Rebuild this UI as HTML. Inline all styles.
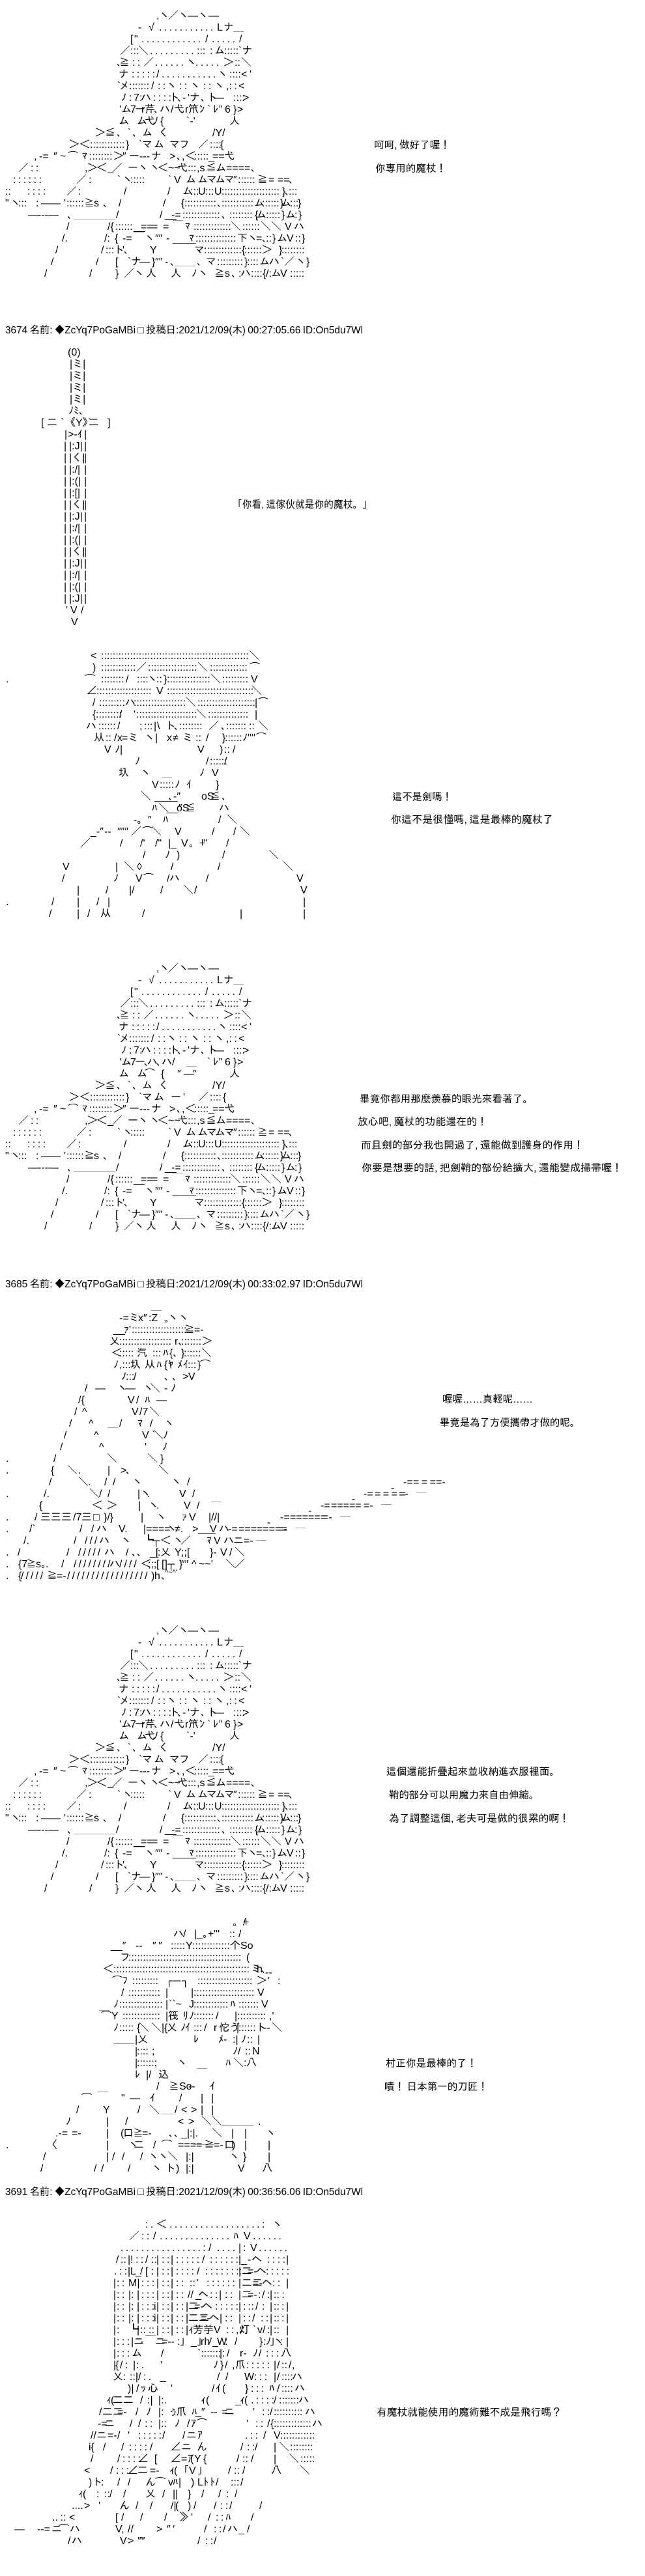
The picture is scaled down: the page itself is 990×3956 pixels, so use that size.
<!DOCTYPE html>
<html><head><meta charset="utf-8"><style>
html,body{margin:0;padding:0;background:#fff}
svg{display:block}
text{font-family:"Liberation Sans","IPAGothic","WenQuanYi Zen Hei","Noto Sans CJK TC",sans-serif;font-size:16px;word-spacing:-1px;fill:#000;white-space:pre}
.w{letter-spacing:3px}
</style></head><body>
<svg xmlns="http://www.w3.org/2000/svg" width="990" height="3956" viewBox="0 0 990 3956">
<rect width="990" height="3956" fill="#fff"/>

<g>
<text y="29"><tspan x="240">,ヽ</tspan><tspan x="258">／ヽ</tspan><tspan x="288">―ヽ―</tspan></text>
<text y="47"><tspan x="212">-</tspan><tspan x="228">√</tspan><tspan x="244">. . . . . . . . . . .</tspan><tspan x="333">L</tspan><tspan x="343">ナ</tspan><tspan x="358">＿</tspan></text>
<text y="65"><tspan x="200">[</tspan><tspan x="206">"</tspan><tspan x="217">. . . . . . . . . . . .</tspan><tspan x="315">/</tspan><tspan x="325">. . . . .</tspan><tspan x="367">/</tspan></text>
<text y="83"><tspan x="184">／</tspan><tspan x="200">:::</tspan><tspan x="212">＼</tspan><tspan x="230">. . . . . . . . .</tspan><tspan x="302">:::</tspan><tspan x="322">:</tspan><tspan x="329">ム</tspan><tspan x="344">:::::</tspan><tspan x="366">`ナ</tspan></text>
<text y="101"><tspan x="179">､</tspan><tspan x="183">≧</tspan><tspan x="203">: :</tspan><tspan x="220">／</tspan><tspan x="238">. . . . . .</tspan><tspan x="286">ヽ</tspan><tspan x="300">. . . . .</tspan><tspan x="343">＞</tspan><tspan x="360">::</tspan><tspan x="370">＼</tspan></text>
<text y="119"><tspan x="182">ナ</tspan><tspan x="202">: : : : :</tspan><tspan x="240">/</tspan><tspan x="248">. . . . . . . . . . .</tspan><tspan x="334">ヽ</tspan><tspan x="352">::::</tspan><tspan x="370">&lt;</tspan><tspan x="383">'</tspan></text>
<text y="137"><tspan x="180">`</tspan><tspan x="183">メ</tspan><tspan x="198">:::::::</tspan><tspan x="232">/</tspan><tspan x="242">: :</tspan><tspan x="256">ヽ</tspan><tspan x="275">: :</tspan><tspan x="292">ヽ</tspan><tspan x="312">: :</tspan><tspan x="329">ヽ</tspan><tspan x="347">,: :</tspan><tspan x="366">&lt;</tspan></text>
<text y="155"><tspan x="186">ﾉ</tspan><tspan x="198">:</tspan><tspan x="205">7</tspan><tspan x="214">:</tspan><tspan x="216">ハ</tspan><tspan x="235">: : : :</tspan><tspan x="260">ト</tspan><tspan x="272">､</tspan><tspan x="280">-</tspan><tspan x="288">'ナ</tspan><tspan x="308">､</tspan><tspan x="318">ト</tspan><tspan x="328">―</tspan><tspan x="358">::::</tspan><tspan x="373">&gt;</tspan></text>
<text y="173"><tspan x="183">'ム</tspan><tspan x="200">7</tspan><tspan x="207">ー</tspan><tspan x="217">r</tspan><tspan x="222">芹</tspan><tspan x="236">､</tspan><tspan x="245">ハ</tspan><tspan x="262">/</tspan><tspan x="267">弋</tspan><tspan x="284">r</tspan><tspan x="289">笊</tspan><tspan x="306">ﾝ</tspan><tspan x="318">`</tspan><tspan x="327">ﾚ</tspan><tspan x="336">"</tspan><tspan x="345">6</tspan><tspan x="358">}</tspan><tspan x="364">&gt;</tspan></text>
<text y="191"><tspan x="182">ム</tspan><tspan x="210">ム</tspan><tspan x="222">弋</tspan><tspan x="235">ﾉ</tspan><tspan x="246">{</tspan><tspan x="286">`-'</tspan><tspan x="352">人</tspan></text>
<text y="209"><tspan x="146">＞</tspan><tspan x="161">≦</tspan><tspan x="179">､</tspan><tspan x="196">`</tspan><tspan x="203">､</tspan><tspan x="218">ム</tspan><tspan x="243">く</tspan><tspan x="326">/Y/</tspan></text>
<text y="227"><tspan x="106">＞</tspan><tspan x="122">＜</tspan><tspan x="138">::::::::::::</tspan><tspan x="193">}</tspan><tspan x="213">`</tspan><tspan x="218">マ</tspan><tspan x="236">ム</tspan><tspan x="260">マ</tspan><tspan x="275">フ</tspan><tspan x="304">／</tspan><tspan x="322">::::</tspan><tspan x="338">{</tspan></text>
<text y="245"><tspan x="52">,</tspan><tspan x="60">-=</tspan><tspan x="82">″</tspan><tspan x="92">~</tspan><tspan x="104">⌒</tspan><tspan x="126">ﾏ</tspan><tspan x="137">::::::::</tspan><tspan x="174">＞</tspan><tspan x="188">″</tspan><tspan x="198">ー</tspan><tspan x="214">---</tspan><tspan x="232">ナ</tspan><tspan x="260">&gt;</tspan><tspan x="271">､,</tspan><tspan x="284">＜</tspan><tspan x="298">:::::</tspan><tspan x="320">_</tspan><tspan x="326">==</tspan><tspan x="344">弋</tspan></text>
<text y="263"><tspan x="28">／</tspan><tspan x="47">: :</tspan><tspan x="130">,</tspan><tspan x="134">＞</tspan><tspan x="148">＜</tspan><tspan x="165">_</tspan><tspan x="172">／</tspan><tspan x="196">ー</tspan><tspan x="212">ヽ</tspan><tspan x="230">ヽ</tspan><tspan x="242">＜</tspan><tspan x="258">~~</tspan><tspan x="272">弋</tspan><tspan x="288">:::</tspan><tspan x="302">,s</tspan><tspan x="316">≦</tspan><tspan x="331">ム</tspan><tspan x="347">====</tspan><tspan x="385">､</tspan></text>
<text y="281"><tspan x="20">: : : : : :</tspan><tspan x="117">／</tspan><tspan x="136">:</tspan><tspan x="180">`</tspan><tspan x="188">ヽ</tspan><tspan x="200">:::::</tspan><tspan x="258">`</tspan><tspan x="267">V</tspan><tspan x="285">ム</tspan><tspan x="303">ム</tspan><tspan x="317">マ</tspan><tspan x="330">ム</tspan><tspan x="344">マ</tspan><tspan x="358">″</tspan><tspan x="365">::::::</tspan><tspan x="395">≧</tspan><tspan x="412">=</tspan><tspan x="426">==</tspan><tspan x="443">､</tspan></text>
<text y="299"><tspan x="8">::</tspan><tspan x="42">: : : :</tspan><tspan x="102">／</tspan><tspan x="120">:</tspan><tspan x="190">/</tspan><tspan x="257">/</tspan><tspan x="280">ム</tspan><tspan x="292">:::</tspan><tspan x="304">U</tspan><tspan x="315">:::</tspan><tspan x="329">U</tspan><tspan x="340">::::::::::::::::::::</tspan><tspan x="433">}</tspan><tspan x="437">､</tspan><tspan x="443">:::</tspan></text>
<text y="317"><tspan x="8">"</tspan><tspan x="16">ヽ</tspan><tspan x="28">:::</tspan><tspan x="55">:</tspan><tspan x="63">―</tspan><tspan x="77">―</tspan><tspan x="98">'</tspan><tspan x="102">::::::</tspan><tspan x="129">≧</tspan><tspan x="144">s</tspan><tspan x="158">､</tspan><tspan x="182">/</tspan><tspan x="250">/</tspan><tspan x="278">{</tspan><tspan x="283">:::::::::::</tspan><tspan x="333">､</tspan><tspan x="340">:::::::::::</tspan><tspan x="390">ム</tspan><tspan x="402">::::::</tspan><tspan x="430">}</tspan><tspan x="431">ム</tspan><tspan x="445">:::</tspan><tspan x="457">}</tspan></text>
<text y="335"><tspan x="43">―</tspan><tspan x="58">---</tspan><tspan x="74">―</tspan><tspan x="103">､</tspan><tspan x="113">＿＿＿＿</tspan><tspan x="178">/</tspan><tspan x="245">/</tspan><tspan x="253">__</tspan><tspan x="263">-=</tspan><tspan x="280">:::::::::::::</tspan><tspan x="340">､</tspan><tspan x="352">::::::::</tspan><tspan x="391">{</tspan><tspan x="393">ム</tspan><tspan x="408">:::::</tspan><tspan x="432">}</tspan><tspan x="438">ム</tspan><tspan x="452">:</tspan><tspan x="458">}</tspan></text>
<text y="353"><tspan x="102">/</tspan><tspan x="165">/{</tspan><tspan x="177">::::::</tspan><tspan x="205">__</tspan><tspan x="216">==</tspan><tspan x="233">=</tspan><tspan x="250">=</tspan><tspan x="265">￣</tspan><tspan x="284">ﾏ</tspan><tspan x="297">:::::::::::::</tspan><tspan x="354">＼</tspan><tspan x="372">::::::</tspan><tspan x="400">＼</tspan><tspan x="416">＼</tspan><tspan x="437">V</tspan><tspan x="451">ハ</tspan></text>
<text y="371"><tspan x="95">/.</tspan><tspan x="160">/:</tspan><tspan x="176">{</tspan><tspan x="188">-=</tspan><tspan x="205">￣</tspan><tspan x="222">ヽ</tspan><tspan x="238">″″</tspan><tspan x="255">-</tspan><tspan x="265">____</tspan><tspan x="290">ﾏ</tspan><tspan x="300">::::::::::::::</tspan><tspan x="364">下</tspan><tspan x="380">ヽ</tspan><tspan x="393">=</tspan><tspan x="402">､</tspan><tspan x="408">::</tspan><tspan x="418">}</tspan><tspan x="425">ム</tspan><tspan x="440">V</tspan><tspan x="453">::</tspan><tspan x="463">}</tspan></text>
<text y="389"><tspan x="85">/</tspan><tspan x="155">/</tspan><tspan x="162">:::</tspan><tspan x="175">ト</tspan><tspan x="188">'</tspan><tspan x="190">､</tspan><tspan x="230">Y</tspan><tspan x="298">マ</tspan><tspan x="313">:::::::::::::</tspan><tspan x="371">{</tspan><tspan x="375">::::::</tspan><tspan x="402">＞</tspan><tspan x="428">}</tspan><tspan x="432">::::::::</tspan></text>
<text y="407"><tspan x="78">/</tspan><tspan x="147">/</tspan><tspan x="177">[</tspan><tspan x="196">`</tspan><tspan x="201">ナ</tspan><tspan x="214">―</tspan><tspan x="233">}</tspan><tspan x="238">″″</tspan><tspan x="253">-</tspan><tspan x="261">､</tspan><tspan x="268">＿＿</tspan><tspan x="302">､</tspan><tspan x="316">マ</tspan><tspan x="333">:::::::::</tspan><tspan x="375">}</tspan><tspan x="379">::::</tspan><tspan x="398">ム</tspan><tspan x="413">ハ</tspan><tspan x="431">`</tspan><tspan x="436">／</tspan><tspan x="454">ヽ</tspan><tspan x="470">}</tspan></text>
<text y="425"><tspan x="68">/</tspan><tspan x="137">/</tspan><tspan x="177">}</tspan><tspan x="190">／</tspan><tspan x="206">ヽ</tspan><tspan x="224">人</tspan><tspan x="262">人</tspan><tspan x="294">ﾉ</tspan><tspan x="304">ヽ</tspan><tspan x="329">≧</tspan><tspan x="345">s</tspan><tspan x="355">､</tspan><tspan x="366">:</tspan><tspan x="369">ハ</tspan><tspan x="385">::::</tspan><tspan x="403">{</tspan><tspan x="408">/:</tspan><tspan x="416">ム</tspan><tspan x="430">V</tspan><tspan x="445">:::::</tspan></text>
<text x="574" y="228" textLength="117" lengthAdjust="spacingAndGlyphs">呵呵, 做好了喔！</text>
<text x="576" y="264" textLength="109" lengthAdjust="spacingAndGlyphs">你專用的魔杖！</text>
</g>

<text x="8" y="512" textLength="549" lengthAdjust="spacingAndGlyphs">3674 名前: ◆ZcYq7PoGaMBi □ 投稿日:2021/12/09(木) 00:27:05.66 ID:On5du7Wl</text>
<text x="357" y="780" textLength="214" lengthAdjust="spacingAndGlyphs">「你看, 這傢伙就是你的魔杖。」</text>

<g>
<text y="546"><tspan x="104">(0)</tspan></text>
<text y="564"><tspan x="107">|ミ|</tspan></text>
<text y="582"><tspan x="107">|ミ|</tspan></text>
<text y="600"><tspan x="107">|ミ|</tspan></text>
<text y="618"><tspan x="107">|ミ|</tspan></text>
<text y="636"><tspan x="105">ﾉﾐ､</tspan></text>
<text y="654"><tspan x="63">[</tspan><tspan x="72">二</tspan><tspan x="93">`</tspan><tspan x="100">《Y》</tspan><tspan x="135">`</tspan><tspan x="136">二</tspan><tspan x="165">]</tspan></text>
<text y="672"><tspan x="99">|</tspan><tspan x="104">&gt;-ｲ</tspan><tspan x="129">|</tspan></text>
<text y="690"><tspan x="98">|</tspan><tspan x="106">|:J|</tspan><tspan x="129">|</tspan></text>
<text y="708"><tspan x="98">|</tspan><tspan x="106">|く|</tspan><tspan x="129">|</tspan></text>
<text y="726"><tspan x="98">|</tspan><tspan x="106">|:/|</tspan><tspan x="129">|</tspan></text>
<text y="744"><tspan x="98">|</tspan><tspan x="106">|:(|</tspan><tspan x="129">|</tspan></text>
<text y="762"><tspan x="98">|</tspan><tspan x="106">|:[|</tspan><tspan x="129">|</tspan></text>
<text y="780"><tspan x="98">|</tspan><tspan x="106">|く|</tspan><tspan x="129">|</tspan></text>
<text y="798"><tspan x="98">|</tspan><tspan x="106">|:J|</tspan><tspan x="129">|</tspan></text>
<text y="816"><tspan x="98">|</tspan><tspan x="106">|:/|</tspan><tspan x="129">|</tspan></text>
<text y="834"><tspan x="98">|</tspan><tspan x="106">|:(|</tspan><tspan x="129">|</tspan></text>
<text y="852"><tspan x="98">|</tspan><tspan x="106">|く|</tspan><tspan x="129">|</tspan></text>
<text y="870"><tspan x="98">|</tspan><tspan x="106">|:J|</tspan><tspan x="129">|</tspan></text>
<text y="888"><tspan x="98">|</tspan><tspan x="106">|:/|</tspan><tspan x="129">|</tspan></text>
<text y="906"><tspan x="98">|</tspan><tspan x="106">|:(|</tspan><tspan x="129">|</tspan></text>
<text y="924"><tspan x="98">|</tspan><tspan x="106">|:J|</tspan><tspan x="129">|</tspan></text>
<text y="942"><tspan x="101">'</tspan><tspan x="108">V</tspan><tspan x="124">/</tspan></text>
<text y="960"><tspan x="109">V</tspan></text>
</g>

<g>
<text y="1012"><tspan x="139">&lt;</tspan><tspan x="155">:::::::::::::::::::::::::::::::::::::::::::::::::::</tspan><tspan x="382">＼</tspan></text>
<text y="1030"><tspan x="142">)</tspan><tspan x="155">::::::::::::</tspan><tspan x="209">／</tspan><tspan x="227">:::::::::::::::::</tspan><tspan x="303">＼</tspan><tspan x="322">:::::::::::::</tspan><tspan x="383">⌒</tspan></text>
<text y="1048"><tspan x="130">⌒</tspan><tspan x="155">::::::::</tspan><tspan x="193">/</tspan><tspan x="210">::::</tspan><tspan x="226">ヽ</tspan><tspan x="240">::</tspan><tspan x="251">}</tspan><tspan x="256">:::::::::::::::</tspan><tspan x="323">＼</tspan><tspan x="341">:::::::::</tspan><tspan x="385">V</tspan></text>
<text y="1048"><tspan x="9">.</tspan></text>
<text y="1066"><tspan x="133">∠</tspan><tspan x="148">:::::::::::::::::::</tspan><tspan x="240">V</tspan><tspan x="256">::::::::::::::::::::::::::::::</tspan><tspan x="386">＼</tspan></text>
<text y="1084"><tspan x="142">/</tspan><tspan x="152">:::::::::</tspan><tspan x="192">ハ</tspan><tspan x="205">::::::::::::::::::</tspan><tspan x="285">＼</tspan><tspan x="303">::::::::::::::::::::</tspan><tspan x="391">|</tspan><tspan x="396">⌒</tspan></text>
<text y="1102"><tspan x="142">{</tspan><tspan x="147">:::::::::</tspan><tspan x="183">/</tspan><tspan x="205">'</tspan><tspan x="209">:::::::::::::::::::::</tspan><tspan x="301">＼</tspan><tspan x="319">::::::::::::::</tspan><tspan x="391">|</tspan></text>
<text y="1120"><tspan x="132">ハ</tspan><tspan x="151">::::::</tspan><tspan x="180">/</tspan><tspan x="214">;</tspan><tspan x="221">:::</tspan><tspan x="236">|</tspan><tspan x="241">\</tspan><tspan x="254">ト</tspan><tspan x="267">､</tspan><tspan x="275">::::::::</tspan><tspan x="320">／</tspan><tspan x="339">､</tspan><tspan x="347">:::::::</tspan><tspan x="382">::</tspan><tspan x="396">＼</tspan></text>
<text y="1138"><tspan x="144">从</tspan><tspan x="162">::</tspan><tspan x="175">/</tspan><tspan x="180">x</tspan><tspan x="187">=ミ</tspan><tspan x="222">ヽ|</tspan><tspan x="256">x</tspan><tspan x="265">≠</tspan><tspan x="280">ミ</tspan><tspan x="300">::</tspan><tspan x="316">/</tspan><tspan x="341">}</tspan><tspan x="345">::::::</tspan><tspan x="372">ﾉ</tspan><tspan x="380">''''</tspan><tspan x="393">⌒</tspan></text>
<text y="1156"><tspan x="160">V</tspan><tspan x="176">ﾉ|</tspan><tspan x="303">V</tspan><tspan x="337">)</tspan><tspan x="344">::</tspan><tspan x="357">/</tspan></text>
<text y="1174"><tspan x="207">ﾉ</tspan><tspan x="316">/</tspan><tspan x="322">::::::</tspan><tspan x="344">/</tspan></text>
<text y="1192"><tspan x="182">圦</tspan><tspan x="216">ヽ</tspan><tspan x="248">＿</tspan><tspan x="306">ﾉ</tspan><tspan x="325">V</tspan></text>
<text y="1210"><tspan x="233">V</tspan><tspan x="245">:::::</tspan><tspan x="268">ﾉ</tspan><tspan x="286">ｲ</tspan><tspan x="331">}</tspan></text>
<text y="1228"><tspan x="216">＼</tspan><tspan x="237">____</tspan><tspan x="258">､-″</tspan><tspan x="309">oS</tspan><tspan x="322">≦</tspan><tspan x="340">､</tspan></text>
<text y="1246"><tspan x="233">ﾊ</tspan><tspan x="243">＼</tspan><tspan x="256">__″</tspan><tspan x="271">oS</tspan><tspan x="284">≦</tspan><tspan x="336">ハ</tspan></text>
<text y="1264"><tspan x="205">-。</tspan><tspan x="227">″</tspan><tspan x="250">ﾊ</tspan><tspan x="335">/</tspan><tspan x="348">＼</tspan></text>
<text y="1282"><tspan x="139">_-″</tspan><tspan x="160">--</tspan><tspan x="180">″″″</tspan><tspan x="201">／</tspan><tspan x="218">⌒</tspan><tspan x="232">＼</tspan><tspan x="268">V</tspan><tspan x="325">/</tspan><tspan x="358">/</tspan><tspan x="368">＼</tspan></text>
<text y="1300"><tspan x="123">／</tspan><tspan x="184">/</tspan><tspan x="215">/'</tspan><tspan x="238">/"</tspan><tspan x="258">|_</tspan><tspan x="278">V</tspan><tspan x="290">。+</tspan><tspan x="309">'''</tspan><tspan x="347">/</tspan></text>
<text y="1318"><tspan x="219">/</tspan><tspan x="253">ﾉ</tspan><tspan x="271">)</tspan><tspan x="341">/</tspan><tspan x="412">＼</tspan></text>
<text y="1336"><tspan x="96">V</tspan><tspan x="177">|</tspan><tspan x="190">＼</tspan><tspan x="210">◊</tspan><tspan x="262">/</tspan><tspan x="334">/</tspan><tspan x="434">＼</tspan></text>
<text y="1354"><tspan x="95">/</tspan><tspan x="174">ﾉ</tspan><tspan x="208">V</tspan><tspan x="220">⌒</tspan><tspan x="256">/</tspan><tspan x="260">ハ</tspan><tspan x="316">/</tspan><tspan x="455">V</tspan></text>
<text y="1372"><tspan x="118">|</tspan><tspan x="162">/</tspan><tspan x="198">|/</tspan><tspan x="246">/</tspan><tspan x="281">＼</tspan><tspan x="298">/</tspan><tspan x="461">V</tspan></text>
<text y="1390"><tspan x="9">.</tspan><tspan x="79">/</tspan><tspan x="118">|</tspan><tspan x="148">/</tspan><tspan x="165">|</tspan><tspan x="465">|</tspan></text>
<text y="1408"><tspan x="75">/</tspan><tspan x="118">|</tspan><tspan x="134">/</tspan><tspan x="154">从</tspan><tspan x="218">/</tspan><tspan x="368">|</tspan><tspan x="465">|</tspan></text>
<text x="602" y="1229" textLength="92" lengthAdjust="spacingAndGlyphs">這不是劍嗎！</text>
<text x="600" y="1264" textLength="249" lengthAdjust="spacingAndGlyphs">你這不是很懂嗎, 這是最棒的魔杖了</text>
</g>

<g transform="translate(0,1463)">
<text y="29"><tspan x="240">,ヽ</tspan><tspan x="258">／ヽ</tspan><tspan x="288">―ヽ―</tspan></text>
<text y="47"><tspan x="212">-</tspan><tspan x="228">√</tspan><tspan x="244">. . . . . . . . . . .</tspan><tspan x="333">L</tspan><tspan x="343">ナ</tspan><tspan x="358">＿</tspan></text>
<text y="65"><tspan x="200">[</tspan><tspan x="206">"</tspan><tspan x="217">. . . . . . . . . . . .</tspan><tspan x="315">/</tspan><tspan x="325">. . . . .</tspan><tspan x="367">/</tspan></text>
<text y="83"><tspan x="184">／</tspan><tspan x="200">:::</tspan><tspan x="212">＼</tspan><tspan x="230">. . . . . . . . .</tspan><tspan x="302">:::</tspan><tspan x="322">:</tspan><tspan x="329">ム</tspan><tspan x="344">:::::</tspan><tspan x="366">`ナ</tspan></text>
<text y="101"><tspan x="179">､</tspan><tspan x="183">≧</tspan><tspan x="203">: :</tspan><tspan x="220">／</tspan><tspan x="238">. . . . . .</tspan><tspan x="286">ヽ</tspan><tspan x="300">. . . . .</tspan><tspan x="343">＞</tspan><tspan x="360">::</tspan><tspan x="370">＼</tspan></text>
<text y="119"><tspan x="182">ナ</tspan><tspan x="202">: : : : :</tspan><tspan x="240">/</tspan><tspan x="248">. . . . . . . . . . .</tspan><tspan x="334">ヽ</tspan><tspan x="352">::::</tspan><tspan x="370">&lt;</tspan><tspan x="383">'</tspan></text>
<text y="137"><tspan x="180">`</tspan><tspan x="183">メ</tspan><tspan x="198">:::::::</tspan><tspan x="232">/</tspan><tspan x="242">: :</tspan><tspan x="256">ヽ</tspan><tspan x="275">: :</tspan><tspan x="292">ヽ</tspan><tspan x="312">: :</tspan><tspan x="329">ヽ</tspan><tspan x="347">,: :</tspan><tspan x="366">&lt;</tspan></text>
<text y="155"><tspan x="186">ﾉ</tspan><tspan x="198">:</tspan><tspan x="205">7</tspan><tspan x="214">:</tspan><tspan x="216">ハ</tspan><tspan x="235">: : : :</tspan><tspan x="260">ト</tspan><tspan x="272">､</tspan><tspan x="280">-</tspan><tspan x="288">'ナ</tspan><tspan x="308">､</tspan><tspan x="318">ト</tspan><tspan x="328">―</tspan><tspan x="358">::::</tspan><tspan x="373">&gt;</tspan></text>
<text y="173"><tspan x="183">'ム</tspan><tspan x="200">7</tspan><tspan x="207">ー</tspan><tspan x="221">､</tspan><tspan x="226">ハ</tspan><tspan x="240">､</tspan><tspan x="248">ハ</tspan><tspan x="264">/</tspan><tspan x="286">＿</tspan><tspan x="318">`</tspan><tspan x="327">ﾚ</tspan><tspan x="336">"</tspan><tspan x="345">6</tspan><tspan x="358">}</tspan><tspan x="364">&gt;</tspan></text>
<text y="191"><tspan x="182">ム</tspan><tspan x="210">ム</tspan><tspan x="222">⌒</tspan><tspan x="247">{</tspan><tspan x="272">″</tspan><tspan x="282">―</tspan><tspan x="296">″</tspan><tspan x="352">人</tspan></text>
<text y="209"><tspan x="146">＞</tspan><tspan x="161">≦</tspan><tspan x="179">､</tspan><tspan x="196">`</tspan><tspan x="203">､</tspan><tspan x="218">ム</tspan><tspan x="243">く</tspan><tspan x="326">/Y/</tspan></text>
<text y="227"><tspan x="106">＞</tspan><tspan x="122">＜</tspan><tspan x="138">::::::::::::</tspan><tspan x="193">}</tspan><tspan x="213">`</tspan><tspan x="218">マ</tspan><tspan x="236">ム</tspan><tspan x="262">ー</tspan><tspan x="281">'</tspan><tspan x="304">／</tspan><tspan x="322">::::</tspan><tspan x="342">{</tspan></text>
<text y="245"><tspan x="52">,</tspan><tspan x="60">-=</tspan><tspan x="82">″</tspan><tspan x="92">~</tspan><tspan x="104">⌒</tspan><tspan x="126">ﾏ</tspan><tspan x="137">::::::::</tspan><tspan x="174">＞</tspan><tspan x="188">″</tspan><tspan x="198">ー</tspan><tspan x="214">---</tspan><tspan x="232">ナ</tspan><tspan x="260">&gt;</tspan><tspan x="271">､,</tspan><tspan x="284">＜</tspan><tspan x="298">:::::</tspan><tspan x="320">_</tspan><tspan x="326">==</tspan><tspan x="344">弋</tspan></text>
<text y="263"><tspan x="28">／</tspan><tspan x="47">: :</tspan><tspan x="130">,</tspan><tspan x="134">＞</tspan><tspan x="148">＜</tspan><tspan x="165">_</tspan><tspan x="172">／</tspan><tspan x="196">ー</tspan><tspan x="212">ヽ</tspan><tspan x="230">ヽ</tspan><tspan x="242">＜</tspan><tspan x="258">~~</tspan><tspan x="272">弋</tspan><tspan x="288">:::</tspan><tspan x="302">,s</tspan><tspan x="316">≦</tspan><tspan x="331">ム</tspan><tspan x="347">====</tspan><tspan x="385">､</tspan></text>
<text y="281"><tspan x="20">: : : : : :</tspan><tspan x="117">／</tspan><tspan x="136">:</tspan><tspan x="180">`</tspan><tspan x="188">ヽ</tspan><tspan x="200">:::::</tspan><tspan x="258">`</tspan><tspan x="267">V</tspan><tspan x="285">ム</tspan><tspan x="303">ム</tspan><tspan x="317">マ</tspan><tspan x="330">ム</tspan><tspan x="344">マ</tspan><tspan x="358">″</tspan><tspan x="365">::::::</tspan><tspan x="395">≧</tspan><tspan x="412">=</tspan><tspan x="426">==</tspan><tspan x="443">､</tspan></text>
<text y="299"><tspan x="8">::</tspan><tspan x="42">: : : :</tspan><tspan x="102">／</tspan><tspan x="120">:</tspan><tspan x="190">/</tspan><tspan x="257">/</tspan><tspan x="280">ム</tspan><tspan x="292">:::</tspan><tspan x="304">U</tspan><tspan x="315">:::</tspan><tspan x="329">U</tspan><tspan x="340">::::::::::::::::::::</tspan><tspan x="433">}</tspan><tspan x="437">､</tspan><tspan x="443">:::</tspan></text>
<text y="317"><tspan x="8">"</tspan><tspan x="16">ヽ</tspan><tspan x="28">:::</tspan><tspan x="55">:</tspan><tspan x="63">―</tspan><tspan x="77">―</tspan><tspan x="98">'</tspan><tspan x="102">::::::</tspan><tspan x="129">≧</tspan><tspan x="144">s</tspan><tspan x="158">､</tspan><tspan x="182">/</tspan><tspan x="250">/</tspan><tspan x="278">{</tspan><tspan x="283">:::::::::::</tspan><tspan x="333">､</tspan><tspan x="340">:::::::::::</tspan><tspan x="390">ム</tspan><tspan x="402">::::::</tspan><tspan x="430">}</tspan><tspan x="431">ム</tspan><tspan x="445">:::</tspan><tspan x="457">}</tspan></text>
<text y="335"><tspan x="43">―</tspan><tspan x="58">---</tspan><tspan x="74">―</tspan><tspan x="103">､</tspan><tspan x="113">＿＿＿＿</tspan><tspan x="178">/</tspan><tspan x="245">/</tspan><tspan x="253">__</tspan><tspan x="263">-=</tspan><tspan x="280">:::::::::::::</tspan><tspan x="340">､</tspan><tspan x="352">::::::::</tspan><tspan x="391">{</tspan><tspan x="393">ム</tspan><tspan x="408">:::::</tspan><tspan x="432">}</tspan><tspan x="438">ム</tspan><tspan x="452">:</tspan><tspan x="458">}</tspan></text>
<text y="353"><tspan x="102">/</tspan><tspan x="165">/{</tspan><tspan x="177">::::::</tspan><tspan x="205">__</tspan><tspan x="216">==</tspan><tspan x="233">=</tspan><tspan x="250">=</tspan><tspan x="265">￣</tspan><tspan x="284">ﾏ</tspan><tspan x="297">:::::::::::::</tspan><tspan x="354">＼</tspan><tspan x="372">::::::</tspan><tspan x="400">＼</tspan><tspan x="416">＼</tspan><tspan x="437">V</tspan><tspan x="451">ハ</tspan></text>
<text y="371"><tspan x="95">/.</tspan><tspan x="160">/:</tspan><tspan x="176">{</tspan><tspan x="188">-=</tspan><tspan x="205">￣</tspan><tspan x="222">ヽ</tspan><tspan x="238">″″</tspan><tspan x="255">-</tspan><tspan x="265">____</tspan><tspan x="290">ﾏ</tspan><tspan x="300">::::::::::::::</tspan><tspan x="364">下</tspan><tspan x="380">ヽ</tspan><tspan x="393">=</tspan><tspan x="402">､</tspan><tspan x="408">::</tspan><tspan x="418">}</tspan><tspan x="425">ム</tspan><tspan x="440">V</tspan><tspan x="453">::</tspan><tspan x="463">}</tspan></text>
<text y="389"><tspan x="85">/</tspan><tspan x="155">/</tspan><tspan x="162">:::</tspan><tspan x="175">ト</tspan><tspan x="188">'</tspan><tspan x="190">､</tspan><tspan x="230">Y</tspan><tspan x="298">マ</tspan><tspan x="313">:::::::::::::</tspan><tspan x="371">{</tspan><tspan x="375">::::::</tspan><tspan x="402">＞</tspan><tspan x="428">}</tspan><tspan x="432">::::::::</tspan></text>
<text y="407"><tspan x="78">/</tspan><tspan x="147">/</tspan><tspan x="177">[</tspan><tspan x="196">`</tspan><tspan x="201">ナ</tspan><tspan x="214">―</tspan><tspan x="233">}</tspan><tspan x="238">″″</tspan><tspan x="253">-</tspan><tspan x="261">､</tspan><tspan x="268">＿＿</tspan><tspan x="302">､</tspan><tspan x="316">マ</tspan><tspan x="333">:::::::::</tspan><tspan x="375">}</tspan><tspan x="379">::::</tspan><tspan x="398">ム</tspan><tspan x="413">ハ</tspan><tspan x="431">`</tspan><tspan x="436">／</tspan><tspan x="454">ヽ</tspan><tspan x="470">}</tspan></text>
<text y="425"><tspan x="68">/</tspan><tspan x="137">/</tspan><tspan x="177">}</tspan><tspan x="190">／</tspan><tspan x="206">ヽ</tspan><tspan x="224">人</tspan><tspan x="262">人</tspan><tspan x="294">ﾉ</tspan><tspan x="304">ヽ</tspan><tspan x="329">≧</tspan><tspan x="345">s</tspan><tspan x="355">､</tspan><tspan x="366">:</tspan><tspan x="369">ハ</tspan><tspan x="385">::::</tspan><tspan x="403">{</tspan><tspan x="408">/:</tspan><tspan x="416">ム</tspan><tspan x="430">V</tspan><tspan x="445">:::::</tspan></text>
</g>
<text x="552" y="1693" textLength="266" lengthAdjust="spacingAndGlyphs">畢竟你都用那麼羨慕的眼光來看著了。</text>
<text x="549" y="1728" textLength="199" lengthAdjust="spacingAndGlyphs">放心吧, 魔杖的功能還在的！</text>
<text x="554" y="1764" textLength="342" lengthAdjust="spacingAndGlyphs">而且劍的部分我也開過了, 還能做到護身的作用！</text>
<text x="555" y="1799" textLength="400" lengthAdjust="spacingAndGlyphs">你要是想要的話, 把劍鞘的部份給擴大, 還能變成掃帚喔！</text>

<text x="8" y="1977" textLength="549" lengthAdjust="spacingAndGlyphs">3685 名前: ◆ZcYq7PoGaMBi □ 投稿日:2021/12/09(木) 00:33:02.97 ID:On5du7Wl</text>

<g>
<text y="2011"><tspan x="232">＿</tspan></text>
<text y="2029"><tspan x="183">-=ミ</tspan><tspan x="212">x″</tspan><tspan x="228">:Z</tspan><tspan x="252">„</tspan><tspan x="258">ヽヽ</tspan></text>
<text y="2047"><tspan x="174">__</tspan><tspan x="190">ｧ'</tspan><tspan x="202">:::::::::::::::::::</tspan><tspan x="283">≧</tspan><tspan x="298">=-</tspan></text>
<text y="2065"><tspan x="168">乂</tspan><tspan x="183">::::::::::::::::::</tspan><tspan x="268">r､</tspan><tspan x="278">:::::::</tspan><tspan x="310">＞</tspan></text>
<text y="2083"><tspan x="171">＜</tspan><tspan x="183">:::::</tspan><tspan x="210">汽</tspan><tspan x="234">:::</tspan><tspan x="250">ﾊ</tspan><tspan x="260">{､</tspan><tspan x="278">}</tspan><tspan x="282">::::::</tspan><tspan x="309">＼</tspan></text>
<text y="2101"><tspan x="174">ﾉ</tspan><tspan x="183">,:::</tspan><tspan x="200">圦</tspan><tspan x="222">从</tspan><tspan x="240">ﾊ</tspan><tspan x="252">{</tspan><tspan x="258">ﾔ</tspan><tspan x="272">ﾒ</tspan><tspan x="281">ｲ</tspan><tspan x="288">:::</tspan><tspan x="303">}</tspan><tspan x="307">⌒</tspan></text>
<text y="2119"><tspan x="186">ﾉ</tspan><tspan x="193">:::</tspan><tspan x="205">/</tspan><tspan x="252">､</tspan><tspan x="264">､</tspan><tspan x="280">&gt;</tspan><tspan x="289">V</tspan></text>
<text y="2137"><tspan x="130">/</tspan><tspan x="146">―</tspan><tspan x="180">ヽ</tspan><tspan x="192">―</tspan><tspan x="220">ヽ</tspan><tspan x="230">＼</tspan><tspan x="252">-</tspan><tspan x="262">ﾉ</tspan></text>
<text y="2155"><tspan x="120">/{</tspan><tspan x="196">V</tspan><tspan x="209">/</tspan><tspan x="222">ﾊ</tspan><tspan x="240">―</tspan></text>
<text y="2173"><tspan x="114">/</tspan><tspan x="126">^</tspan><tspan x="202">V</tspan><tspan x="214">/7</tspan><tspan x="229">＼</tspan></text>
<text y="2191"><tspan x="106">/</tspan><tspan x="136">^</tspan><tspan x="165">＿</tspan><tspan x="183">/</tspan><tspan x="211">ﾏ</tspan><tspan x="230">/</tspan><tspan x="252">ヽ</tspan></text>
<text y="2209"><tspan x="98">/</tspan><tspan x="144">^</tspan><tspan x="218">V</tspan><tspan x="233">`</tspan><tspan x="235">＼</tspan><tspan x="250">ﾉ</tspan></text>
<text y="2227"><tspan x="92">/</tspan><tspan x="152">^</tspan><tspan x="222">'</tspan><tspan x="249">ﾉ</tspan></text>
<text y="2245"><tspan x="9">.</tspan><tspan x="82">/</tspan><tspan x="164">＼</tspan><tspan x="226">＼</tspan><tspan x="246">}</tspan></text>
<text y="2263"><tspan x="9">.</tspan><tspan x="78">{</tspan><tspan x="103">＼</tspan><tspan x="120">.</tspan><tspan x="165">|</tspan><tspan x="185">&gt;</tspan><tspan x="193">､</tspan><tspan x="243">＼</tspan></text>
<text y="2281"><tspan x="75">/</tspan><tspan x="120">＼</tspan><tspan x="135">.</tspan><tspan x="160">/</tspan><tspan x="173">/</tspan><tspan x="203">ヽ</tspan><tspan x="263">ヽ</tspan><tspan x="287">/</tspan><tspan x="619">-=</tspan><tspan x="634">= = =</tspan><tspan x="669">=-</tspan></text>
<text y="2299"><tspan x="9">.</tspan><tspan x="67">/.</tspan><tspan x="137">＼</tspan><tspan x="152">/</tspan><tspan x="165">/</tspan><tspan x="211">|</tspan><tspan x="216">ヽ</tspan><tspan x="226">.</tspan><tspan x="275">V</tspan><tspan x="295">/</tspan><tspan x="558">-=</tspan><tspan x="575">= = = =</tspan><tspan x="612">=-</tspan></text>
<text y="2317"><tspan x="60">{</tspan><tspan x="141">＜</tspan><tspan x="164">＞</tspan><tspan x="212">|</tspan><tspan x="228">ヽ</tspan><tspan x="240">.</tspan><tspan x="282">V</tspan><tspan x="302">/</tspan><tspan x="492">-=</tspan><tspan x="508">=====</tspan><tspan x="558">=-</tspan></text>
<text y="2335"><tspan x="9">.</tspan><tspan x="53">/</tspan><tspan x="62">三三三</tspan><tspan x="112">/7</tspan><tspan x="125">三</tspan><tspan x="143">□</tspan><tspan x="159">}/}</tspan><tspan x="216">|</tspan><tspan x="240">ヽ</tspan><tspan x="279">ｧ</tspan><tspan x="290">V</tspan><tspan x="320">|//|</tspan><tspan x="430">-=</tspan><tspan x="445">======</tspan><tspan x="495">=-</tspan></text>
<text y="2305"><tspan x="324">＿</tspan></text>
<text y="2353"><tspan x="9">.</tspan><tspan x="45">/`</tspan><tspan x="122">/</tspan><tspan x="140">/</tspan><tspan x="148">ハ</tspan><tspan x="182">V.</tspan><tspan x="220">|====</tspan><tspan x="256">ヽ</tspan><tspan x="268">≠.</tspan><tspan x="295">&gt;</tspan><tspan x="304">___</tspan><tspan x="322">V</tspan><tspan x="336">ハ</tspan><tspan x="350">-=</tspan><tspan x="366">========</tspan><tspan x="426">=-</tspan></text>
<text y="2371"><tspan x="36">/.</tspan><tspan x="113">/</tspan><tspan x="130" class="w">///</tspan><tspan x="152">ハ</tspan><tspan x="186">ヽ</tspan><tspan x="220">┗</tspan><tspan x="234">┬</tspan><tspan x="246">＜</tspan><tspan x="266">ヽ</tspan><tspan x="277">／</tspan><tspan x="317">ﾏ</tspan><tspan x="328">V</tspan><tspan x="343">ハ</tspan><tspan x="358">ニ=-</tspan></text>
<text y="2389"><tspan x="9">.</tspan><tspan x="27">/</tspan><tspan x="102">/</tspan><tspan x="120" class="w">/////</tspan><tspan x="160">ハ</tspan><tspan x="193">/</tspan><tspan x="202">､､</tspan><tspan x="230">_[</tspan><tspan x="242">:</tspan><tspan x="246">乂</tspan><tspan x="268">Y</tspan><tspan x="278">;;</tspan><tspan x="287">[</tspan><tspan x="322">}-</tspan><tspan x="338">V</tspan><tspan x="352">/</tspan><tspan x="360">＼</tspan></text>
<text y="2407"><tspan x="9">.</tspan><tspan x="28">{7</tspan><tspan x="40">≧</tspan><tspan x="55">s。</tspan><tspan x="70">.</tspan><tspan x="94">/</tspan><tspan x="113" class="w">////////</tspan><tspan x="168">ハ</tspan><tspan x="183" class="w">////</tspan><tspan x="216">＜</tspan><tspan x="227">;;;</tspan><tspan x="240">[</tspan><tspan x="248">[]</tspan><tspan x="257">┬</tspan><tspan x="275">}</tspan><tspan x="278">″″</tspan><tspan x="294">^</tspan><tspan x="305">~~'</tspan><tspan x="346">＼</tspan><tspan x="360">／</tspan></text>
<text y="2418" style="font-size:11px"><tspan x="253">^~^'</tspan></text>
<text y="2425"><tspan x="9">.</tspan><tspan x="28">{</tspan><tspan x="32" class="w">/////</tspan><tspan x="72">≧</tspan><tspan x="87">=-</tspan><tspan x="103" class="w">/////////////////</tspan><tspan x="232">)</tspan><tspan x="237">h</tspan><tspan x="247">､</tspan></text>
<text y="2343"><tspan x="410">-</tspan></text>
<text y="2364"><tspan x="393">＿</tspan></text>
<text y="2345"><tspan x="453">＿</tspan></text>
<text y="2325"><tspan x="473">-</tspan></text>
<text y="2327"><tspan x="522">＿</tspan></text>
<text y="2307"><tspan x="540">-</tspan></text>
<text y="2309"><tspan x="585">＿</tspan></text>
<text y="2290"><tspan x="600">-</tspan></text>
<text y="2290"><tspan x="639">＿</tspan></text>
<text x="679" y="2154" textLength="139" lengthAdjust="spacingAndGlyphs">喔喔……真輕呢……</text>
<text x="675" y="2190" textLength="215" lengthAdjust="spacingAndGlyphs">畢竟是為了方便攜帶才做的呢。</text>
</g>

<g transform="translate(0,2480)">
<text y="29"><tspan x="240">,ヽ</tspan><tspan x="258">／ヽ</tspan><tspan x="288">―ヽ―</tspan></text>
<text y="47"><tspan x="212">-</tspan><tspan x="228">√</tspan><tspan x="244">. . . . . . . . . . .</tspan><tspan x="333">L</tspan><tspan x="343">ナ</tspan><tspan x="358">＿</tspan></text>
<text y="65"><tspan x="200">[</tspan><tspan x="206">"</tspan><tspan x="217">. . . . . . . . . . . .</tspan><tspan x="315">/</tspan><tspan x="325">. . . . .</tspan><tspan x="367">/</tspan></text>
<text y="83"><tspan x="184">／</tspan><tspan x="200">:::</tspan><tspan x="212">＼</tspan><tspan x="230">. . . . . . . . .</tspan><tspan x="302">:::</tspan><tspan x="322">:</tspan><tspan x="329">ム</tspan><tspan x="344">:::::</tspan><tspan x="366">`ナ</tspan></text>
<text y="101"><tspan x="179">､</tspan><tspan x="183">≧</tspan><tspan x="203">: :</tspan><tspan x="220">／</tspan><tspan x="238">. . . . . .</tspan><tspan x="286">ヽ</tspan><tspan x="300">. . . . .</tspan><tspan x="343">＞</tspan><tspan x="360">::</tspan><tspan x="370">＼</tspan></text>
<text y="119"><tspan x="182">ナ</tspan><tspan x="202">: : : : :</tspan><tspan x="240">/</tspan><tspan x="248">. . . . . . . . . . .</tspan><tspan x="334">ヽ</tspan><tspan x="352">::::</tspan><tspan x="370">&lt;</tspan><tspan x="383">'</tspan></text>
<text y="137"><tspan x="180">`</tspan><tspan x="183">メ</tspan><tspan x="198">:::::::</tspan><tspan x="232">/</tspan><tspan x="242">: :</tspan><tspan x="256">ヽ</tspan><tspan x="275">: :</tspan><tspan x="292">ヽ</tspan><tspan x="312">: :</tspan><tspan x="329">ヽ</tspan><tspan x="347">,: :</tspan><tspan x="366">&lt;</tspan></text>
<text y="155"><tspan x="186">ﾉ</tspan><tspan x="198">:</tspan><tspan x="205">7</tspan><tspan x="214">:</tspan><tspan x="216">ハ</tspan><tspan x="235">: : : :</tspan><tspan x="260">ト</tspan><tspan x="272">､</tspan><tspan x="280">-</tspan><tspan x="288">'ナ</tspan><tspan x="308">､</tspan><tspan x="318">ト</tspan><tspan x="328">―</tspan><tspan x="358">::::</tspan><tspan x="373">&gt;</tspan></text>
<text y="173"><tspan x="183">'ム</tspan><tspan x="200">7</tspan><tspan x="207">ー</tspan><tspan x="217">r</tspan><tspan x="222">芹</tspan><tspan x="236">､</tspan><tspan x="245">ハ</tspan><tspan x="262">/</tspan><tspan x="267">弋</tspan><tspan x="284">r</tspan><tspan x="289">笊</tspan><tspan x="306">ﾝ</tspan><tspan x="318">`</tspan><tspan x="327">ﾚ</tspan><tspan x="336">"</tspan><tspan x="345">6</tspan><tspan x="358">}</tspan><tspan x="364">&gt;</tspan></text>
<text y="191"><tspan x="182">ム</tspan><tspan x="210">ム</tspan><tspan x="222">弋</tspan><tspan x="235">ﾉ</tspan><tspan x="246">{</tspan><tspan x="286">`-'</tspan><tspan x="352">人</tspan></text>
<text y="209"><tspan x="146">＞</tspan><tspan x="161">≦</tspan><tspan x="179">､</tspan><tspan x="196">`</tspan><tspan x="203">､</tspan><tspan x="218">ム</tspan><tspan x="243">く</tspan><tspan x="326">/Y/</tspan></text>
<text y="227"><tspan x="106">＞</tspan><tspan x="122">＜</tspan><tspan x="138">::::::::::::</tspan><tspan x="193">}</tspan><tspan x="213">`</tspan><tspan x="218">マ</tspan><tspan x="236">ム</tspan><tspan x="260">マ</tspan><tspan x="275">フ</tspan><tspan x="304">／</tspan><tspan x="322">::::</tspan><tspan x="338">{</tspan></text>
<text y="245"><tspan x="52">,</tspan><tspan x="60">-=</tspan><tspan x="82">″</tspan><tspan x="92">~</tspan><tspan x="104">⌒</tspan><tspan x="126">ﾏ</tspan><tspan x="137">::::::::</tspan><tspan x="174">＞</tspan><tspan x="188">″</tspan><tspan x="198">ー</tspan><tspan x="214">---</tspan><tspan x="232">ナ</tspan><tspan x="260">&gt;</tspan><tspan x="271">､,</tspan><tspan x="284">＜</tspan><tspan x="298">:::::</tspan><tspan x="320">_</tspan><tspan x="326">==</tspan><tspan x="344">弋</tspan></text>
<text y="263"><tspan x="28">／</tspan><tspan x="47">: :</tspan><tspan x="130">,</tspan><tspan x="134">＞</tspan><tspan x="148">＜</tspan><tspan x="165">_</tspan><tspan x="172">／</tspan><tspan x="196">ー</tspan><tspan x="212">ヽ</tspan><tspan x="230">ヽ</tspan><tspan x="242">＜</tspan><tspan x="258">~~</tspan><tspan x="272">弋</tspan><tspan x="288">:::</tspan><tspan x="302">,s</tspan><tspan x="316">≦</tspan><tspan x="331">ム</tspan><tspan x="347">====</tspan><tspan x="385">､</tspan></text>
<text y="281"><tspan x="20">: : : : : :</tspan><tspan x="117">／</tspan><tspan x="136">:</tspan><tspan x="180">`</tspan><tspan x="188">ヽ</tspan><tspan x="200">:::::</tspan><tspan x="258">`</tspan><tspan x="267">V</tspan><tspan x="285">ム</tspan><tspan x="303">ム</tspan><tspan x="317">マ</tspan><tspan x="330">ム</tspan><tspan x="344">マ</tspan><tspan x="358">″</tspan><tspan x="365">::::::</tspan><tspan x="395">≧</tspan><tspan x="412">=</tspan><tspan x="426">==</tspan><tspan x="443">､</tspan></text>
<text y="299"><tspan x="8">::</tspan><tspan x="42">: : : :</tspan><tspan x="102">／</tspan><tspan x="120">:</tspan><tspan x="190">/</tspan><tspan x="257">/</tspan><tspan x="280">ム</tspan><tspan x="292">:::</tspan><tspan x="304">U</tspan><tspan x="315">:::</tspan><tspan x="329">U</tspan><tspan x="340">::::::::::::::::::::</tspan><tspan x="433">}</tspan><tspan x="437">､</tspan><tspan x="443">:::</tspan></text>
<text y="317"><tspan x="8">"</tspan><tspan x="16">ヽ</tspan><tspan x="28">:::</tspan><tspan x="55">:</tspan><tspan x="63">―</tspan><tspan x="77">―</tspan><tspan x="98">'</tspan><tspan x="102">::::::</tspan><tspan x="129">≧</tspan><tspan x="144">s</tspan><tspan x="158">､</tspan><tspan x="182">/</tspan><tspan x="250">/</tspan><tspan x="278">{</tspan><tspan x="283">:::::::::::</tspan><tspan x="333">､</tspan><tspan x="340">:::::::::::</tspan><tspan x="390">ム</tspan><tspan x="402">::::::</tspan><tspan x="430">}</tspan><tspan x="431">ム</tspan><tspan x="445">:::</tspan><tspan x="457">}</tspan></text>
<text y="335"><tspan x="43">―</tspan><tspan x="58">---</tspan><tspan x="74">―</tspan><tspan x="103">､</tspan><tspan x="113">＿＿＿＿</tspan><tspan x="178">/</tspan><tspan x="245">/</tspan><tspan x="253">__</tspan><tspan x="263">-=</tspan><tspan x="280">:::::::::::::</tspan><tspan x="340">､</tspan><tspan x="352">::::::::</tspan><tspan x="391">{</tspan><tspan x="393">ム</tspan><tspan x="408">:::::</tspan><tspan x="432">}</tspan><tspan x="438">ム</tspan><tspan x="452">:</tspan><tspan x="458">}</tspan></text>
<text y="353"><tspan x="102">/</tspan><tspan x="165">/{</tspan><tspan x="177">::::::</tspan><tspan x="205">__</tspan><tspan x="216">==</tspan><tspan x="233">=</tspan><tspan x="250">=</tspan><tspan x="265">￣</tspan><tspan x="284">ﾏ</tspan><tspan x="297">:::::::::::::</tspan><tspan x="354">＼</tspan><tspan x="372">::::::</tspan><tspan x="400">＼</tspan><tspan x="416">＼</tspan><tspan x="437">V</tspan><tspan x="451">ハ</tspan></text>
<text y="371"><tspan x="95">/.</tspan><tspan x="160">/:</tspan><tspan x="176">{</tspan><tspan x="188">-=</tspan><tspan x="205">￣</tspan><tspan x="222">ヽ</tspan><tspan x="238">″″</tspan><tspan x="255">-</tspan><tspan x="265">____</tspan><tspan x="290">ﾏ</tspan><tspan x="300">::::::::::::::</tspan><tspan x="364">下</tspan><tspan x="380">ヽ</tspan><tspan x="393">=</tspan><tspan x="402">､</tspan><tspan x="408">::</tspan><tspan x="418">}</tspan><tspan x="425">ム</tspan><tspan x="440">V</tspan><tspan x="453">::</tspan><tspan x="463">}</tspan></text>
<text y="389"><tspan x="85">/</tspan><tspan x="155">/</tspan><tspan x="162">:::</tspan><tspan x="175">ト</tspan><tspan x="188">'</tspan><tspan x="190">､</tspan><tspan x="230">Y</tspan><tspan x="298">マ</tspan><tspan x="313">:::::::::::::</tspan><tspan x="371">{</tspan><tspan x="375">::::::</tspan><tspan x="402">＞</tspan><tspan x="428">}</tspan><tspan x="432">::::::::</tspan></text>
<text y="407"><tspan x="78">/</tspan><tspan x="147">/</tspan><tspan x="177">[</tspan><tspan x="196">`</tspan><tspan x="201">ナ</tspan><tspan x="214">―</tspan><tspan x="233">}</tspan><tspan x="238">″″</tspan><tspan x="253">-</tspan><tspan x="261">､</tspan><tspan x="268">＿＿</tspan><tspan x="302">､</tspan><tspan x="316">マ</tspan><tspan x="333">:::::::::</tspan><tspan x="375">}</tspan><tspan x="379">::::</tspan><tspan x="398">ム</tspan><tspan x="413">ハ</tspan><tspan x="431">`</tspan><tspan x="436">／</tspan><tspan x="454">ヽ</tspan><tspan x="470">}</tspan></text>
<text y="425"><tspan x="68">/</tspan><tspan x="137">/</tspan><tspan x="177">}</tspan><tspan x="190">／</tspan><tspan x="206">ヽ</tspan><tspan x="224">人</tspan><tspan x="262">人</tspan><tspan x="294">ﾉ</tspan><tspan x="304">ヽ</tspan><tspan x="329">≧</tspan><tspan x="345">s</tspan><tspan x="355">､</tspan><tspan x="366">:</tspan><tspan x="369">ハ</tspan><tspan x="385">::::</tspan><tspan x="403">{</tspan><tspan x="408">/:</tspan><tspan x="416">ム</tspan><tspan x="430">V</tspan><tspan x="445">:::::</tspan></text>
</g>
<text x="593" y="2726" textLength="266" lengthAdjust="spacingAndGlyphs">這個還能折疊起來並收納進衣服裡面。</text>
<text x="597" y="2762" textLength="230" lengthAdjust="spacingAndGlyphs">鞘的部分可以用魔力來自由伸縮。</text>
<text x="597" y="2798" textLength="277" lengthAdjust="spacingAndGlyphs">為了調整這個, 老夫可是做的很累的啊！</text>

<g>
<text y="2957"><tspan x="357">。+</tspan><tspan x="373">/</tspan></text>
<text y="2975"><tspan x="266">ハ</tspan><tspan x="281">/</tspan><tspan x="298">|_。</tspan><tspan x="319">+</tspan><tspan x="328">'''</tspan><tspan x="352">::</tspan><tspan x="366">/</tspan></text>
<text y="2993"><tspan x="170">__″</tspan><tspan x="208">--</tspan><tspan x="234">″ ″</tspan><tspan x="262">:::::</tspan><tspan x="285">Y</tspan><tspan x="295">:::::::::::::</tspan><tspan x="353">个</tspan><tspan x="369">So</tspan></text>
<text y="3011"><tspan x="184">フ</tspan><tspan x="197">:::::::::::::::::::::::::::::::::::::::</tspan><tspan x="378">(</tspan></text>
<text y="3029"><tspan x="158">＜</tspan><tspan x="174">:::::::::::::::::::::::::::::::::::::::::::::::</tspan><tspan x="385">ミ</tspan><tspan x="394">h</tspan><tspan x="401">､</tspan></text>
<text y="3034"><tspan x="407">--</tspan></text>
<text y="3047"><tspan x="172">⌒ﾌ</tspan><tspan x="203">:::::::::</tspan><tspan x="254">┌</tspan><tspan x="266">─</tspan><tspan x="279">┐</tspan><tspan x="303">:::::::::::::::::::</tspan><tspan x="394">＞</tspan><tspan x="411">'</tspan><tspan x="426">:</tspan></text>
<text y="3065"><tspan x="186">/</tspan><tspan x="197">:::::::::::</tspan><tspan x="254">|</tspan><tspan x="293">|</tspan><tspan x="297">:::::::::::::::::::::</tspan><tspan x="395">V</tspan></text>
<text y="3083"><tspan x="174">ﾉ</tspan><tspan x="183">:::::::::::::::</tspan><tspan x="254">|</tspan><tspan x="259">``~</tspan><tspan x="290">J</tspan><tspan x="297">::::::::::::</tspan><tspan x="353">ﾊ</tspan><tspan x="366">:::::::</tspan><tspan x="401">V</tspan></text>
<text y="3101"><tspan x="155">⌒Y</tspan><tspan x="188">:::::::::::::</tspan><tspan x="254">|</tspan><tspan x="258">筏</tspan><tspan x="281">ﾘ</tspan><tspan x="290">ﾉ</tspan><tspan x="297">:::::::</tspan><tspan x="331">/</tspan><tspan x="360">|</tspan><tspan x="364">::::::::::</tspan><tspan x="413">,'</tspan></text>
<text y="3086"><tspan x="152">＿</tspan></text>
<text y="3119"><tspan x="174">ﾉ</tspan><tspan x="183">:::::</tspan><tspan x="210">{</tspan><tspan x="213">＼</tspan><tspan x="232">＼|</tspan><tspan x="252">{</tspan><tspan x="256">乂</tspan><tspan x="277">ﾉ</tspan><tspan x="284">ｲ</tspan><tspan x="297">:::</tspan><tspan x="313">/</tspan><tspan x="328">r</tspan><tspan x="336">佗</tspan><tspan x="352">ゔ</tspan><tspan x="363">|</tspan><tspan x="366">::::::</tspan><tspan x="393">ト</tspan><tspan x="404">--</tspan><tspan x="417">＼</tspan></text>
<text y="3137"><tspan x="174">＿＿</tspan><tspan x="207">|</tspan><tspan x="211">乂</tspan><tspan x="297">ﾚ</tspan><tspan x="335">ﾒ-</tspan><tspan x="357">:|</tspan><tspan x="370">ﾉ</tspan><tspan x="379">::</tspan><tspan x="395">|</tspan></text>
<text y="3155"><tspan x="207">|</tspan><tspan x="210">::::</tspan><tspan x="233">;</tspan><tspan x="357">ﾉ/</tspan><tspan x="376">::</tspan><tspan x="387">N</tspan></text>
<text y="3173"><tspan x="207">|</tspan><tspan x="210">:::::::</tspan><tspan x="237">;</tspan><tspan x="272">ヽ</tspan><tspan x="346">ﾊ</tspan><tspan x="358">＼</tspan><tspan x="374">:</tspan><tspan x="378">八</tspan></text>
<text y="3191"><tspan x="207">ﾚ</tspan><tspan x="224">|</tspan><tspan x="228">/</tspan><tspan x="243">込</tspan><tspan x="302">￣</tspan></text>
<text y="3209"><tspan x="240">/</tspan><tspan x="259">≧</tspan><tspan x="275">So</tspan><tspan x="289">--</tspan><tspan x="322">ｲ</tspan></text>
<text y="3227"><tspan x="125">⌒</tspan><tspan x="150">￣</tspan><tspan x="186">"</tspan><tspan x="199">―</tspan><tspan x="230">ｲ</tspan><tspan x="275">/</tspan><tspan x="308">|</tspan><tspan x="324">|</tspan></text>
<text y="3245"><tspan x="117">/</tspan><tspan x="158">Y</tspan><tspan x="211">/</tspan><tspan x="229">＼</tspan><tspan x="249">＿</tspan><tspan x="268">/</tspan><tspan x="278">&lt;</tspan><tspan x="293">&gt;</tspan><tspan x="308">|</tspan><tspan x="324">|</tspan></text>
<text y="3263"><tspan x="101">ﾉ</tspan><tspan x="163">|</tspan><tspan x="192">/</tspan><tspan x="273">&lt;</tspan><tspan x="289">&gt;</tspan><tspan x="309">＼</tspan><tspan x="325">＼</tspan><tspan x="341">＿＿＿</tspan><tspan x="396">.</tspan></text>
<text y="3281"><tspan x="85">.-=</tspan><tspan x="110">=-</tspan><tspan x="163">|</tspan><tspan x="185">(</tspan><tspan x="189">口</tspan><tspan x="204">≧</tspan><tspan x="218">=-</tspan><tspan x="259">､､</tspan><tspan x="278">_|:|.</tspan><tspan x="325">＼</tspan><tspan x="355">|</tspan><tspan x="375">|</tspan><tspan x="408">ヽ</tspan></text>
<text y="3299"><tspan x="9">.</tspan><tspan x="72">〈</tspan><tspan x="163">|</tspan><tspan x="197">ヽ</tspan><tspan x="205">二</tspan><tspan x="235">/</tspan><tspan x="248">⌒</tspan><tspan x="273">====</tspan><tspan x="313">≧</tspan><tspan x="328">=-</tspan><tspan x="344">口</tspan><tspan x="356">)</tspan><tspan x="375">|</tspan><tspan x="411">|</tspan></text>
<text y="3317"><tspan x="66">/</tspan><tspan x="163">|</tspan><tspan x="172">/</tspan><tspan x="187">/</tspan><tspan x="215">/</tspan><tspan x="228">ヽ</tspan><tspan x="243">ヽ</tspan><tspan x="257">＼</tspan><tspan x="285">|:|</tspan><tspan x="352">ヽ</tspan><tspan x="373">}</tspan><tspan x="411">|</tspan></text>
<text y="3308"><tspan x="297">￣￣</tspan></text>
<text y="3335"><tspan x="62">/</tspan><tspan x="144">/</tspan><tspan x="155">/</tspan><tspan x="196">/</tspan><tspan x="233">ヽ</tspan><tspan x="254">ト</tspan><tspan x="270">)</tspan><tspan x="285">|:|</tspan><tspan x="365">V</tspan><tspan x="402">八</tspan></text>
<text x="592" y="3174" textLength="140" lengthAdjust="spacingAndGlyphs">村正你是最棒的了！</text>
<text x="590" y="3210" textLength="159" lengthAdjust="spacingAndGlyphs">嘖！ 日本第一的刀匠！</text>
</g>

<text x="8" y="3371" textLength="549" lengthAdjust="spacingAndGlyphs">3691 名前: ◆ZcYq7PoGaMBi □ 投稿日:2021/12/09(木) 00:36:56.06 ID:On5du7Wl</text>

<g>
<text y="3421"><tspan x="223">: .</tspan><tspan x="240">＜</tspan><tspan x="260">. . . . . . . . . . . . . . . . . . :</tspan><tspan x="418">ヽ</tspan></text>
<text y="3439"><tspan x="198">／</tspan><tspan x="217">: :</tspan><tspan x="235">/</tspan><tspan x="245">. . . . . . . . . . . . . .</tspan><tspan x="358">ﾊ</tspan><tspan x="374">V</tspan><tspan x="388">. . . . . .</tspan></text>
<text y="3457"><tspan x="185">. . . . . . . . . . . . . . . . :</tspan><tspan x="320">/</tspan><tspan x="333">. . . .</tspan><tspan x="366">|</tspan><tspan x="373">:</tspan><tspan x="384">V</tspan><tspan x="397">. . . . . .</tspan></text>
<text y="3475"><tspan x="178">/</tspan><tspan x="185">::</tspan><tspan x="196">|</tspan><tspan x="200">!</tspan><tspan x="208">: :</tspan><tspan x="223">/</tspan><tspan x="232">::</tspan><tspan x="240">|</tspan><tspan x="248">: :</tspan><tspan x="262">|</tspan><tspan x="270">: : : : :</tspan><tspan x="310">/</tspan><tspan x="322">: : : : : ::</tspan><tspan x="366">|_</tspan><tspan x="380">-</tspan><tspan x="386">ヘ</tspan><tspan x="410">: : : :</tspan><tspan x="439">|</tspan></text>
<text y="3493"><tspan x="175">. : :</tspan><tspan x="196">|</tspan><tspan x="200">L</tspan><tspan x="208">_</tspan><tspan x="215">/</tspan><tspan x="223">[</tspan><tspan x="232">: :</tspan><tspan x="240">|</tspan><tspan x="248">: :</tspan><tspan x="262">|</tspan><tspan x="270">: : : :</tspan><tspan x="302">/</tspan><tspan x="315">: : : : : : ::</tspan><tspan x="366">|</tspan><tspan x="371">二</tspan><tspan x="380">=-</tspan><tspan x="393">ヘ</tspan><tspan x="408">: : : : :</tspan></text>
<text y="3511"><tspan x="174">|</tspan><tspan x="179">: :</tspan><tspan x="197">M|</tspan><tspan x="217">: : :</tspan><tspan x="240">|</tspan><tspan x="248">: :</tspan><tspan x="262">|</tspan><tspan x="270">: :</tspan><tspan x="291">::</tspan><tspan x="302">'</tspan><tspan x="317">: : : : : :</tspan><tspan x="366">|</tspan><tspan x="371">二二</tspan><tspan x="388">=-</tspan><tspan x="402">ヘ</tspan><tspan x="418">: :</tspan><tspan x="439">|</tspan></text>
<text y="3529"><tspan x="174">|</tspan><tspan x="179">: :</tspan><tspan x="197">|:</tspan><tspan x="210">|</tspan><tspan x="217">: : :</tspan><tspan x="240">|</tspan><tspan x="248">: :</tspan><tspan x="262">|</tspan><tspan x="270">: :</tspan><tspan x="288">//</tspan><tspan x="300">_</tspan><tspan x="304">ヘ</tspan><tspan x="322">: :</tspan><tspan x="336">|</tspan><tspan x="345">: :</tspan><tspan x="366">|</tspan><tspan x="371">二</tspan><tspan x="380">=-</tspan><tspan x="396">:</tspan><tspan x="402">/</tspan><tspan x="410">:</tspan><tspan x="414">|</tspan><tspan x="420">:: :</tspan></text>
<text y="3547"><tspan x="174">|</tspan><tspan x="179">: :</tspan><tspan x="197">|:</tspan><tspan x="210">|</tspan><tspan x="217">: : :</tspan><tspan x="236">i</tspan><tspan x="240">|</tspan><tspan x="248">: :</tspan><tspan x="262">|</tspan><tspan x="270">: :</tspan><tspan x="285">|</tspan><tspan x="289">二</tspan><tspan x="298">=-</tspan><tspan x="310">ヘ</tspan><tspan x="330">: : : : ::</tspan><tspan x="366">|</tspan><tspan x="373">: ::</tspan><tspan x="392">/</tspan><tspan x="402">:</tspan><tspan x="414">|</tspan><tspan x="420">::</tspan><tspan x="432">:</tspan><tspan x="439">|</tspan></text>
<text y="3565"><tspan x="174">|</tspan><tspan x="179">: :</tspan><tspan x="197">|:</tspan><tspan x="210">|</tspan><tspan x="217">: : :</tspan><tspan x="236">i</tspan><tspan x="240">|</tspan><tspan x="248">: :</tspan><tspan x="262">|</tspan><tspan x="270">: :</tspan><tspan x="285">|</tspan><tspan x="289">二二</tspan><tspan x="308">=-</tspan><tspan x="321">ヘ|</tspan><tspan x="345">: :</tspan><tspan x="366">|</tspan><tspan x="373">: :</tspan><tspan x="387">/</tspan><tspan x="400">: :</tspan><tspan x="414">|</tspan><tspan x="420">::</tspan><tspan x="432">:</tspan><tspan x="439">|</tspan></text>
<text y="3583"><tspan x="174">|</tspan><tspan x="179">:</tspan><tspan x="197">┗</tspan><tspan x="210">|</tspan><tspan x="215">::</tspan><tspan x="228">::</tspan><tspan x="240">|</tspan><tspan x="248">: :</tspan><tspan x="262">|</tspan><tspan x="270">: :</tspan><tspan x="285">|</tspan><tspan x="289">ｨ</tspan><tspan x="296">芳</tspan><tspan x="312">芋</tspan><tspan x="328">V</tspan><tspan x="347">: :</tspan><tspan x="362">,ﾉ</tspan><tspan x="367">灯</tspan><tspan x="388">`</tspan><tspan x="395">v</tspan><tspan x="403">/</tspan><tspan x="410">:</tspan><tspan x="414">|</tspan><tspan x="420">::</tspan><tspan x="439">|</tspan></text>
<text y="3601"><tspan x="174">|</tspan><tspan x="179">: : :</tspan><tspan x="201">|</tspan><tspan x="205">ニ</tspan><tspan x="215">-</tspan><tspan x="223">￣</tspan><tspan x="238">ニ</tspan><tspan x="248">=--</tspan><tspan x="272">:</tspan><tspan x="276">」</tspan><tspan x="293">_」</tspan><tspan x="308">rh</tspan><tspan x="318">ﾉ_</tspan><tspan x="333">W</tspan><tspan x="345">:</tspan><tspan x="360">/</tspan><tspan x="398">}</tspan><tspan x="404">:</tspan><tspan x="408">ﾉ</tspan><tspan x="414">」</tspan><tspan x="420">ヽ</tspan><tspan x="430">:</tspan><tspan x="439">|</tspan></text>
<text y="3619"><tspan x="174">|</tspan><tspan x="179">: : :</tspan><tspan x="202">ム</tspan><tspan x="247">/</tspan><tspan x="303">`:::::::</tspan><tspan x="337">|</tspan><tspan x="341">:</tspan><tspan x="348">/</tspan><tspan x="368">r-</tspan><tspan x="388">ﾉ</tspan><tspan x="397">/</tspan><tspan x="408">: : :</tspan><tspan x="431">八</tspan></text>
<text y="3637"><tspan x="174">|</tspan><tspan x="177">{</tspan><tspan x="184">/</tspan><tspan x="192">:</tspan><tspan x="204">|</tspan><tspan x="209">: .</tspan><tspan x="246">'</tspan><tspan x="327">ﾉ</tspan><tspan x="338">}</tspan><tspan x="345">/</tspan><tspan x="356">,爪</tspan><tspan x="378">: : : : :</tspan><tspan x="420">|</tspan><tspan x="425">/</tspan><tspan x="432">::</tspan><tspan x="443">/</tspan><tspan x="448">,</tspan></text>
<text y="3655"><tspan x="173">乂</tspan><tspan x="189">:</tspan><tspan x="199">::|</tspan><tspan x="208">!</tspan><tspan x="212">/</tspan><tspan x="220">: .</tspan><tspan x="246">_</tspan><tspan x="333">/</tspan><tspan x="346">/</tspan><tspan x="375">W</tspan><tspan x="390">: : :</tspan><tspan x="420">|</tspan><tspan x="425">/</tspan><tspan x="432">::::</tspan><tspan x="448">ハ</tspan></text>
<text y="3673"><tspan x="196">)|</tspan><tspan x="209">/</tspan><tspan x="216">ｯ</tspan><tspan x="227">心</tspan><tspan x="262">'</tspan><tspan x="325">/</tspan><tspan x="331">ｲ</tspan><tspan x="341">(</tspan><tspan x="376">}</tspan><tspan x="385">: : :</tspan><tspan x="413">ﾊ</tspan><tspan x="425">/</tspan><tspan x="432">::::</tspan><tspan x="452">ハ</tspan></text>
<text y="3691"><tspan x="163">ｨ</tspan><tspan x="170">(</tspan><tspan x="173">二二</tspan><tspan x="215">/</tspan><tspan x="226">:|</tspan><tspan x="243">|:.</tspan><tspan x="308">ｨ</tspan><tspan x="316">(</tspan><tspan x="361">_</tspan><tspan x="368">ｨ</tspan><tspan x="375">(</tspan><tspan x="385">. : : : :</tspan><tspan x="420">/</tspan><tspan x="428">:::::::</tspan><tspan x="458">ハ</tspan></text>
<text y="3709"><tspan x="152">/</tspan><tspan x="157">二二</tspan><tspan x="180">=-</tspan><tspan x="208">/</tspan><tspan x="224">ﾉ</tspan><tspan x="243">|:</tspan><tspan x="258">ぅ</tspan><tspan x="270">爪</tspan><tspan x="294">ﾊ</tspan><tspan x="300">_″</tspan><tspan x="323">--</tspan><tspan x="340">=</tspan><tspan x="344">ニ</tspan><tspan x="388">'</tspan><tspan x="402">: :</tspan><tspan x="414">/</tspan><tspan x="420">::::::::::</tspan><tspan x="468">ハ</tspan></text>
<text y="3727"><tspan x="150">-=</tspan><tspan x="160">ニ</tspan><tspan x="199">/</tspan><tspan x="212">/</tspan><tspan x="222">: :</tspan><tspan x="243">|:</tspan><tspan x="252">:</tspan><tspan x="268">ﾉ</tspan><tspan x="287">/</tspan><tspan x="293">ｱ</tspan><tspan x="302">⌒</tspan><tspan x="378">'</tspan><tspan x="392">: :</tspan><tspan x="410">/</tspan><tspan x="415">{</tspan><tspan x="420">:::::::::::::</tspan><tspan x="479">ハ</tspan></text>
<text y="3745"><tspan x="139">//</tspan><tspan x="148">ニ</tspan><tspan x="165">=-</tspan><tspan x="180">/</tspan><tspan x="196">'</tspan><tspan x="212">: : : : :</tspan><tspan x="249">/</tspan><tspan x="280">/</tspan><tspan x="286">ニ</tspan><tspan x="303">ｱ</tspan><tspan x="376">. : :</tspan><tspan x="404">/</tspan><tspan x="420">V</tspan><tspan x="430">::::::::::::</tspan></text>
<text y="3763"><tspan x="136">i{</tspan><tspan x="158">/</tspan><tspan x="186">/</tspan><tspan x="198">: : : :</tspan><tspan x="230">/</tspan><tspan x="262">∠</tspan><tspan x="278">ニ</tspan><tspan x="302">ん</tspan><tspan x="369">/</tspan><tspan x="379">: :</tspan><tspan x="391">/</tspan><tspan x="420">|</tspan><tspan x="428">＼</tspan><tspan x="445">::::::::</tspan></text>
<text y="3781"><tspan x="139">/</tspan><tspan x="180">/</tspan><tspan x="188">: : : :</tspan><tspan x="212">∠</tspan><tspan x="237">[</tspan><tspan x="262">∠</tspan><tspan x="278">=</tspan><tspan x="288">ｱ</tspan><tspan x="292">(</tspan><tspan x="298">Y</tspan><tspan x="312">{</tspan><tspan x="363">/</tspan><tspan x="372">::</tspan><tspan x="385">/</tspan><tspan x="420">|</tspan><tspan x="443">＼</tspan><tspan x="461">:::::</tspan></text>
<text y="3799"><tspan x="129">&lt;</tspan><tspan x="169">/</tspan><tspan x="178">: : :</tspan><tspan x="196">∠</tspan><tspan x="211">二</tspan><tspan x="230">=-</tspan><tspan x="260">ｨ</tspan><tspan x="267">(</tspan><tspan x="274">「</tspan><tspan x="290">V</tspan><tspan x="303">」</tspan><tspan x="350">/</tspan><tspan x="359">::</tspan><tspan x="372">/</tspan><tspan x="416">八</tspan><tspan x="460">＼</tspan></text>
<text y="3817"><tspan x="136">)ト</tspan><tspan x="155">:</tspan><tspan x="180">/</tspan><tspan x="196">/</tspan><tspan x="223">ん</tspan><tspan x="238">⌒</tspan><tspan x="258">v</tspan><tspan x="265">ﾊ</tspan><tspan x="274">|</tspan><tspan x="293">)</tspan><tspan x="303">Lﾄ</tspan><tspan x="322">ﾄ</tspan><tspan x="331">/</tspan><tspan x="354">:::</tspan><tspan x="369">/</tspan></text>
<text y="3835"><tspan x="120">ｨ</tspan><tspan x="127">(</tspan><tspan x="148">:</tspan><tspan x="160">::</tspan><tspan x="168">/</tspan><tspan x="189">/</tspan><tspan x="223">乂</tspan><tspan x="249">/</tspan><tspan x="265">||</tspan><tspan x="288">}</tspan><tspan x="309">/</tspan><tspan x="335">/</tspan><tspan x="347">:</tspan><tspan x="360">/</tspan></text>
<text y="3853"><tspan x="110">....</tspan><tspan x="129">&gt;</tspan><tspan x="151">'</tspan><tspan x="183">ん</tspan><tspan x="208">/</tspan><tspan x="230">/</tspan><tspan x="262">/|</tspan><tspan x="269">(</tspan><tspan x="288">)</tspan><tspan x="297">/</tspan><tspan x="328">/</tspan><tspan x="338">: :</tspan><tspan x="352">/</tspan><tspan x="398">/</tspan></text>
<text y="3871"><tspan x="80">.. ::</tspan><tspan x="106">&lt;</tspan><tspan x="177">[</tspan><tspan x="186">/</tspan><tspan x="215">/</tspan><tspan x="252">/</tspan><tspan x="274">≫</tspan><tspan x="293">'</tspan><tspan x="319">/</tspan><tspan x="331">: :</tspan><tspan x="346">ﾊ</tspan><tspan x="385">/</tspan></text>
<text y="3889"><tspan x="22">―</tspan><tspan x="57">--=</tspan><tspan x="79">ニ</tspan><tspan x="90">⌒</tspan><tspan x="107">ハ</tspan><tspan x="177">V,</tspan><tspan x="196">//</tspan><tspan x="240">&gt;</tspan><tspan x="256">″ ′</tspan><tspan x="313">/</tspan><tspan x="328">: :</tspan><tspan x="342">/</tspan><tspan x="349">ハ</tspan><tspan x="366">_</tspan><tspan x="379">/</tspan></text>
<text y="3907"><tspan x="104">/</tspan><tspan x="110">ハ</tspan><tspan x="184">V</tspan><tspan x="196">&gt;</tspan><tspan x="211">″‴</tspan><tspan x="303">/</tspan><tspan x="315">: :</tspan><tspan x="328">/</tspan></text>
<text x="578" y="3710" textLength="284" lengthAdjust="spacingAndGlyphs">有魔杖就能使用的魔術難不成是飛行嗎？</text>
</g>
</svg>
</body></html>
